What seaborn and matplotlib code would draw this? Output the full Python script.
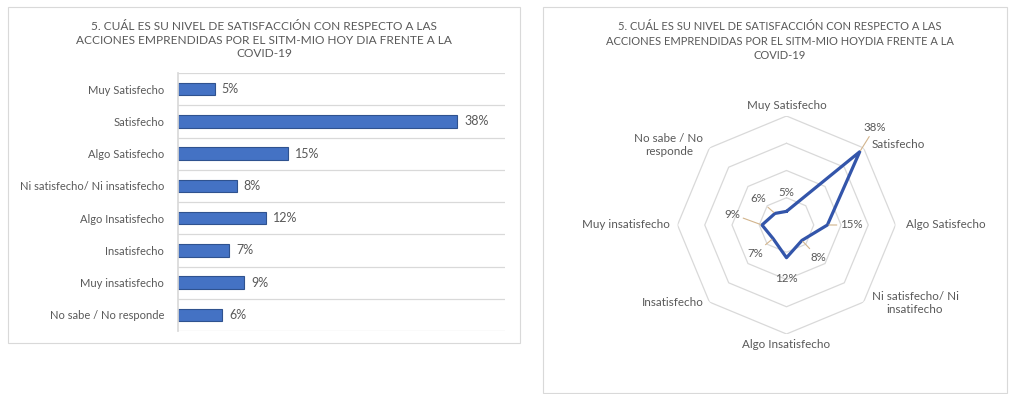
import numpy as np
import pandas as pd
import matplotlib
matplotlib.use("Agg")
import matplotlib.pyplot as plt
import seaborn as sns

# ---------------- data ----------------
categories = ["Muy Satisfecho", "Satisfecho", "Algo Satisfecho",
              "Ni satisfecho/ Ni insatisfecho", "Algo Insatisfecho",
              "Insatisfecho", "Muy insatisfecho", "No sabe / No responde"]
values = [5, 38, 15, 8, 12, 7, 9, 6]
value_labels = ["5%", "38%", "15%", "8%", "12%", "7%", "9%", "6%"]
radar_labels = ["Muy Satisfecho", "Satisfecho", "Algo Satisfecho",
                "Ni satisfecho/ Ni\ninsatifecho", "Algo Insatisfecho",
                "Insatisfecho", "Muy insatisfecho", "No sabe / No\nresponde"]
title_left = "5. CUÁL ES SU NIVEL DE SATISFACCIÓN CON RESPECTO A LAS\nACCIONES EMPRENDIDAS POR EL SITM-MIO HOY DIA FRENTE A LA\nCOVID-19"
title_right = "5. CUÁL ES SU NIVEL DE SATISFACCIÓN CON RESPECTO A LAS\nACCIONES EMPRENDIDAS POR EL SITM-MIO HOYDIA FRENTE A LA\nCOVID-19"
radar_rings = [10, 20, 30, 40]

sns.set_theme(style="white")
plt.rcParams['font.family'] = ['Lato', 'DejaVu Sans']

TXT = "#595959"
GRID = "#D9D9D9"
BLUE = "#4472C4"
DPI = 100
W, H = 1009, 394
fig = plt.figure(figsize=(W / DPI, H / DPI), dpi=DPI)

def fx(px):
    return px / W

def fy(py):
    return 1 - py / H

# panel frames
fig.add_artist(plt.Rectangle((fx(8), fy(343)), fx(520) - fx(8), fy(7) - fy(343),
                             transform=fig.transFigure, fill=False, ec=GRID, lw=0.8))
fig.add_artist(plt.Rectangle((fx(543), fy(393)), fx(1007) - fx(543), fy(7) - fy(393),
                             transform=fig.transFigure, fill=False, ec=GRID, lw=0.8))

# ---------------- left: bar chart ----------------
df = pd.DataFrame({"cat": categories, "val": np.array(values) / 100.0})
ax = fig.add_axes([fx(178), fy(331), fx(505) - fx(178), fy(73) - fy(331)])
sns.barplot(data=df, x="val", y="cat", orient="h", color=BLUE, width=0.38,
            edgecolor="#2F528F", linewidth=0.8, saturation=1, ax=ax)
ax.set_xlim(0, 0.445)
ax.set_ylim(7.5, -0.5)
ax.set_xlabel("")
ax.set_ylabel("")
ax.set_xticks([])
ax.set_yticks(range(len(categories)))
ax.set_yticklabels(categories, fontsize=8, color=TXT)
ax.tick_params(axis="y", length=0, pad=10)
ax.set_yticks(np.arange(-0.5, len(categories), 1), minor=True)
ax.tick_params(axis="y", which="minor", length=0)
ax.grid(axis="y", which="minor", color=GRID, lw=0.9)
for s in ["top", "right", "bottom"]:
    ax.spines[s].set_visible(False)
ax.spines["left"].set_color(GRID)
for i, (v, lab) in enumerate(zip(df["val"], value_labels)):
    ax.annotate(lab, xy=(v, i), xytext=(5, 0), textcoords="offset points",
                va="center", ha="left", fontsize=9, color=TXT)
fig.text(fx(264), fy(21), title_left, ha="center", va="top", fontsize=8.6,
         color=TXT, linespacing=1.3)

# ---------------- right: radar ----------------
cx, cy, R = 786.5, 225, 109
pax = fig.add_axes([fx(cx - R), fy(cy + R), fx(2 * R), fy(cy - R) - fy(cy + R)],
                   projection="polar")
pax.set_theta_zero_location("N")
pax.set_theta_direction(-1)
n = len(categories)
theta = np.arange(n) * 2 * np.pi / n
pax.set_ylim(0, 40)
pax.grid(False)
pax.spines["polar"].set_visible(False)
pax.set_xticks([])
pax.set_yticks([])
pax.patch.set_alpha(0)
th_closed = np.append(theta, theta[0])
for r in radar_rings:
    pax.plot(th_closed, [r] * (n + 1), color=GRID, lw=0.9, zorder=1)
rd = pd.DataFrame({"theta": th_closed, "val": np.append(values, values[0])})
sns.lineplot(data=rd, x="theta", y="val", sort=False, color="#3355AA", lw=2.3,
             ax=pax, zorder=3, estimator=None)
pax.set_xlabel("")
pax.set_ylabel("")

# data labels (pixel offsets)
offs = [(0, 19), (15, 24), (24, 0), (16, -17), (0, -21), (-18, -15), (-30, 11), (-17, 15)]
leader = [False, True, True, True, False, True, True, True]
for t, v, lab, o, ld in zip(theta, values, value_labels, offs, leader):
    ap = dict(arrowstyle="-", color="#D2B48C", lw=0.8, shrinkA=0, shrinkB=1) if ld else None
    pax.annotate(lab, xy=(t, v), xytext=o, textcoords="offset pixels",
                 ha="center", va="center", fontsize=8.3, color=TXT,
                 arrowprops=ap, zorder=4)

# category labels around the radar
cat_offs = [((0, 5), "center", "bottom"), ((8, 3), "left", "center"),
            ((10, 1), "left", "center"), ((8, -1), "left", "center"),
            ((0, -5), "center", "top"), ((-6, 0), "right", "center"),
            ((-8, 0), "right", "center"), ((-6, 3), "right", "center")]
for t, lab, (o, ha, va) in zip(theta, radar_labels, cat_offs):
    pax.annotate(lab, xy=(t, 40), xytext=o, textcoords="offset pixels",
                 ha=ha, va=va, fontsize=8.4, color=TXT, multialignment="center",
                 annotation_clip=False)

fig.text(fx(780), fy(21), title_right, ha="center", va="top", fontsize=8,
         color=TXT, linespacing=1.4)

fig.savefig("out.png", dpi=DPI)
